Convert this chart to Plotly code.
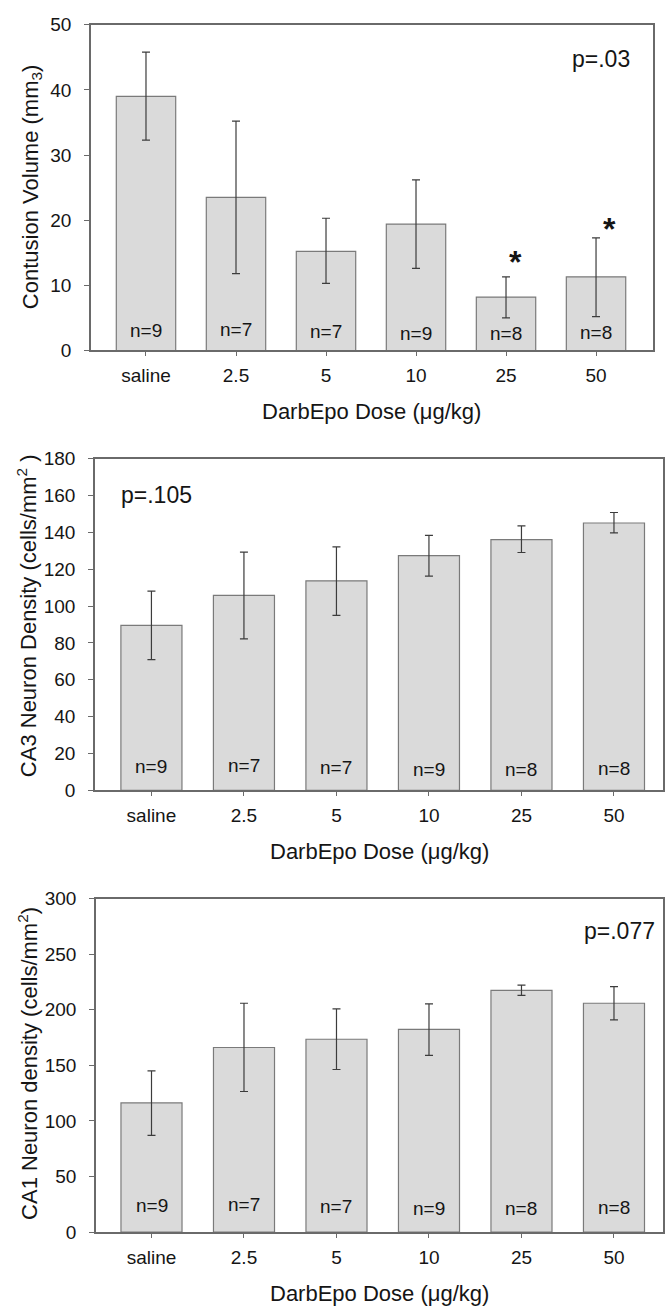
import plotly.graph_objects as go

# ---------------- data ----------------
categories = ["saline", "2.5", "5", "10", "25", "50"]
n_labels = ["n=9", "n=7", "n=7", "n=9", "n=8", "n=8"]

contusion_mean = [39.0, 23.5, 15.2, 19.4, 8.2, 11.3]
contusion_upper = [45.8, 35.2, 20.3, 26.2, 11.3, 17.3]
contusion_lower = [32.3, 11.8, 10.3, 12.6, 5.0, 5.2]

ca3_mean = [89.5, 105.8, 113.7, 127.4, 136.1, 145.1]
ca3_upper = [108.1, 129.3, 132.2, 138.4, 143.5, 150.8]
ca3_lower = [71.0, 82.2, 95.0, 116.3, 129.1, 139.8]

ca1_mean = [116.2, 166.1, 173.5, 182.3, 217.4, 205.9]
ca1_upper = [145.1, 205.9, 200.9, 205.3, 222.1, 220.9]
ca1_lower = [87.0, 126.5, 146.3, 159.0, 213.0, 190.9]

# significance markers (panel 1): category and height of asterisk
star_categories = ["25", "50"]
star_values = [13.3, 18.3]

p_texts = ["p=.03", "p=.105", "p=.077"]
p_pos = [(5.06, 44.7), (0.05, 160.1), (5.06, 271.0)]

y_titles = [
    "Contusion Volume (mm<sub>3</sub>)",
    "CA3 Neuron Density (cells/mm<sup>2</sup> )",
    "CA1 Neuron density (cells/mm<sup>2</sup>)",
]
y_ranges = [[0, 50], [0, 180], [0, 300]]
y_dtick = [10, 20, 50]
x_title = "DarbEpo Dose (\u03bcg/kg)"

# ---------------- layout geometry ----------------
W, H = 665, 1316
FONT = "Liberation Sans, Arial, sans-serif"
TXT = "#151515"
AX = "#6a6a6a"

panels = [
    dict(mean=contusion_mean, up=contusion_upper, lo=contusion_lower,
         px=(91, 653), py=(15, 346), xr=[-0.611, 5.633], nshift=19),
    dict(mean=ca3_mean, up=ca3_upper, lo=ca3_lower,
         px=(95, 663), py=(456, 793), xr=[-0.61, 5.53], nshift=23),
    dict(mean=ca1_mean, up=ca1_upper, lo=ca1_lower,
         px=(96, 663), py=(903, 1242), xr=[-0.60, 5.53], nshift=26),
]
n_offsets = [1, 2, 0, -2, -2, -1]
star_dx = [0.1, 0.15]
ytitle_x = [32, 27, 28]
ytitle_yc = [180, 616, 1071]
xtitle_y = [408, 855, 1304]

fig = go.Figure()
annotations = []
layout_axes = {}

for i, p in enumerate(panels):
    k = "" if i == 0 else str(i + 1)
    xa, ya = "x" + k, "y" + k
    err_plus = [u - m for u, m in zip(p["up"], p["mean"])]
    err_minus = [m - l for m, l in zip(p["mean"], p["lo"])]
    fig.add_trace(go.Bar(
        x=categories, y=p["mean"], xaxis=xa, yaxis=ya, width=0.66,
        marker=dict(color="#dadada", line=dict(color="#7a7a7a", width=1.2)),
        error_y=dict(type="data", symmetric=False, array=err_plus,
                     arrayminus=err_minus, color="#3c3c3c", thickness=1.2, width=4),
        showlegend=False, hoverinfo="skip",
    ))
    x0, x1 = p["px"]
    yt, yb = p["py"]
    layout_axes["xaxis" + k] = dict(
        domain=[x0 / W, x1 / W], anchor=ya, type="category",
        range=p["xr"], showline=True, linecolor=AX, linewidth=1.5, mirror=True,
        ticks="outside", ticklen=4, tickcolor=AX, tickwidth=1,
        tickfont=dict(family=FONT, size=19, color=TXT), ticklabelstandoff=3,
        showgrid=False, zeroline=False, fixedrange=True,
    )
    layout_axes["yaxis" + k] = dict(
        domain=[1 - yb / H, 1 - yt / H], anchor=xa,
        range=y_ranges[i], dtick=y_dtick[i], tick0=0,
        showline=True, linecolor=AX, linewidth=1.5, mirror=True,
        ticks="outside", ticklen=5, tickcolor=AX, tickwidth=1,
        tickfont=dict(family=FONT, size=19, color=TXT), ticklabelstandoff=9,
        showgrid=False, zeroline=False, fixedrange=True,
    )
    # n labels
    for j, (lab, off) in enumerate(zip(n_labels, n_offsets)):
        annotations.append(dict(
            x=j, y=0, xref=xa, yref=ya, text=lab, showarrow=False,
            xanchor="center", yanchor="middle", yshift=p["nshift"] + off,
            font=dict(family=FONT, size=19, color=TXT)))
    # p value
    annotations.append(dict(
        x=p_pos[i][0], y=p_pos[i][1], xref=xa, yref=ya, text=p_texts[i],
        showarrow=False, xanchor="center", yanchor="middle",
        font=dict(family=FONT, size=23, color=TXT)))
    # y title
    annotations.append(dict(
        x=ytitle_x[i] / W, y=1 - ytitle_yc[i] / H, xref="paper", yref="paper",
        text=y_titles[i], textangle=-90, showarrow=False,
        xanchor="center", yanchor="middle",
        font=dict(family=FONT, size=22, color=TXT)))
    # x title
    annotations.append(dict(
        x=((x0 + x1) / 2) / W, y=1 - xtitle_y[i] / H, xref="paper", yref="paper",
        text=x_title, showarrow=False, xanchor="center", yanchor="middle",
        font=dict(family=FONT, size=22, color=TXT)))

# asterisks (panel 1)
for c, v, dx in zip(star_categories, star_values, star_dx):
    idx = categories.index(c)
    annotations.append(dict(
        x=idx + dx, y=v, xref="x", yref="y", text="<b>*</b>", showarrow=False,
        xanchor="center", yanchor="middle", yshift=2,
        font=dict(family=FONT, size=32, color=TXT)))

fig.update_layout(
    width=W, height=H, margin=dict(l=0, r=0, t=0, b=0),
    paper_bgcolor="white", plot_bgcolor="white",
    annotations=annotations, bargap=0.3, **layout_axes,
)

fig.write_html(
    "out.html",
    config={"displayModeBar": False},
    post_script="document.body.style.margin='0';document.body.style.overflow='hidden';",
)
